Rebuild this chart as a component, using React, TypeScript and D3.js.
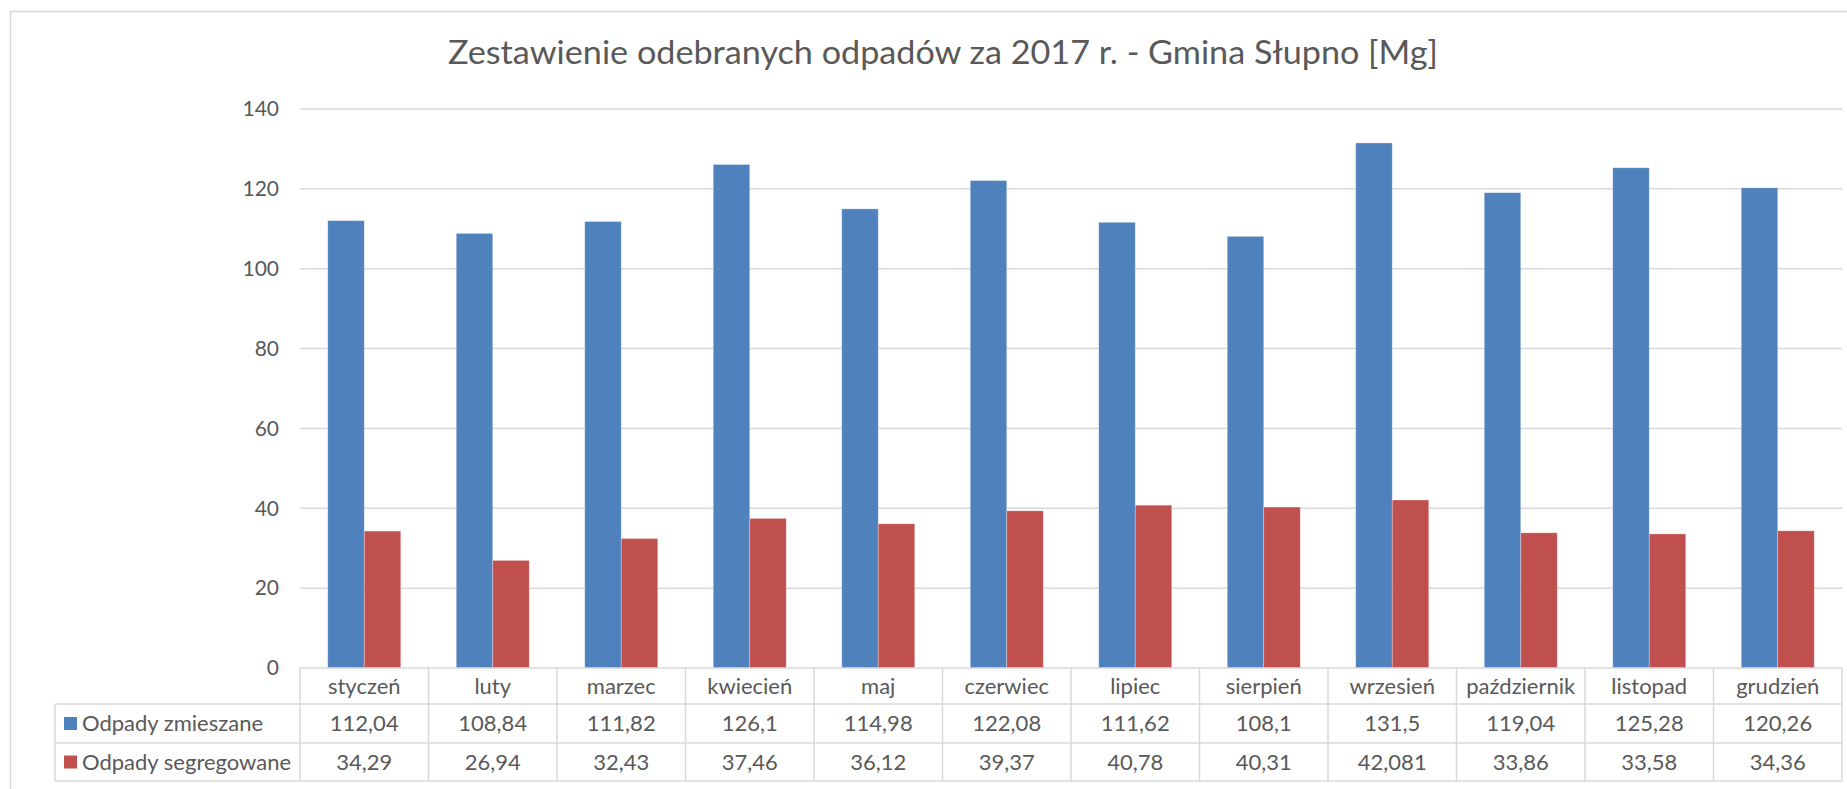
import React, { useEffect } from "react";
import * as d3 from "d3";

// month names shown in the table header row
const months = [
  "styczeń", "luty", "marzec", "kwiecień", "maj", "czerwiec",
  "lipiec", "sierpień", "wrzesień", "październik", "listopad", "grudzień",
];

// series values [Mg]
const mixed = [112.04, 108.84, 111.82, 126.1, 114.98, 122.08, 111.62, 108.1, 131.5, 119.04, 125.28, 120.26];
const sorted = [34.29, 26.94, 32.43, 37.46, 36.12, 39.37, 40.78, 40.31, 42.081, 33.86, 33.58, 34.36];

const seriesNames = ["Odpady zmieszane", "Odpady segregowane"];
const seriesColors = ["#4F81BD", "#C0504D"];
const yTicks = [0, 20, 40, 60, 80, 100, 120, 140];

const title = "Zestawienie odebranych odpadów za 2017 r. - Gmina Słupno [Mg]";

const W = 1847;
const H = 789;
const FONT = "Lato, 'Open Sans', sans-serif";
const TEXT = "#595959";
const LINE = "#d9d9d9";

export default function App() {
  useEffect(() => {
    // kill the default page margin so the svg sits at 0,0
    document.body.style.margin = "0";
    document.body.style.overflow = "hidden";
  }, []);

  // plot area
  const left = 300;
  const right = 1842;
  const top = 109;
  const bottom = 668;

  // table rows
  const rowY = [668, 704, 743, 781];
  const tableLeft = 55;

  const x0 = d3.scaleBand<string>().domain(months).range([left, right]).padding(0);
  const x1 = d3
    .scaleBand<number>()
    .domain([0, 1])
    .range([0, x0.bandwidth()])
    .paddingInner(0)
    .paddingOuter(0.76);
  const y = d3.scaleLinear().domain([0, 140]).range([bottom, top]);

  const data = [mixed, sorted];
  const fmt = (v: number) => String(v).replace(".", ",");

  return (
    <svg width={W} height={H} style={{ display: "block", background: "#fff" }} fontFamily={FONT}>
      {/* outer chart border, runs off the right and bottom */}
      <rect x={10.5} y={11.5} width={W} height={H} fill="#fff" stroke={LINE} strokeWidth={1.5} />

      <text
        x={943}
        y={64}
        textAnchor="middle"
        fontSize={33}
        fill={TEXT}
        textLength={990}
        lengthAdjust="spacingAndGlyphs"
      >
        {title}
      </text>

      {/* gridlines + y labels */}
      {yTicks.map((t) => (
        <g key={t}>
          {t > 0 && (
            <line x1={left} x2={right} y1={y(t)} y2={y(t)} stroke={LINE} strokeWidth={1.5} />
          )}
          <text x={279} y={y(t)} dy="0.35em" textAnchor="end" fontSize={21} fill={TEXT}>
            {t}
          </text>
        </g>
      ))}

      {/* bars */}
      {months.map((m, i) => (
        <g key={m} transform={`translate(${x0(m)},0)`}>
          {data.map((s, k) => (
            <rect
              key={k}
              x={x1(k)}
              y={y(s[i])}
              width={x1.bandwidth()}
              height={y(0) - y(s[i])}
              fill={seriesColors[k]}
              stroke="#fff"
              strokeOpacity={0.4}
              strokeWidth={0.75}
            />
          ))}
        </g>
      ))}

      {/* data table */}
      <g stroke={LINE} strokeWidth={1.5} fill="none">
        <line x1={left} x2={right} y1={rowY[0]} y2={rowY[0]} />
        <line x1={tableLeft} x2={right} y1={rowY[1]} y2={rowY[1]} />
        <line x1={tableLeft} x2={right} y1={rowY[2]} y2={rowY[2]} />
        <line x1={tableLeft} x2={right} y1={rowY[3]} y2={rowY[3]} />
        <line x1={tableLeft} x2={tableLeft} y1={rowY[1]} y2={rowY[3]} />
        {months.map((m) => (
          <line key={m} x1={x0(m)} x2={x0(m)} y1={rowY[0]} y2={rowY[3]} />
        ))}
        <line x1={right} x2={right} y1={rowY[0]} y2={rowY[3]} />
      </g>

      {months.map((m) => (
        <text
          key={m}
          x={(x0(m) as number) + x0.bandwidth() / 2}
          y={(rowY[0] + rowY[1]) / 2}
          dy="0.35em"
          textAnchor="middle"
          fontSize={22}
          fill={TEXT}
        >
          {m}
        </text>
      ))}

      {data.map((s, k) => {
        const cy = (rowY[k + 1] + rowY[k + 2]) / 2;
        return (
          <g key={k}>
            <rect x={64} y={cy - 6.5} width={13} height={13} fill={seriesColors[k]} />
            <text x={82} y={cy} dy="0.35em" fontSize={22} fill={TEXT}>
              {seriesNames[k]}
            </text>
            {months.map((m, i) => (
              <text
                key={m}
                x={(x0(m) as number) + x0.bandwidth() / 2}
                y={cy}
                dy="0.35em"
                textAnchor="middle"
                fontSize={22}
                fill={TEXT}
              >
                {fmt(s[i])}
              </text>
            ))}
          </g>
        );
      })}
    </svg>
  );
}
